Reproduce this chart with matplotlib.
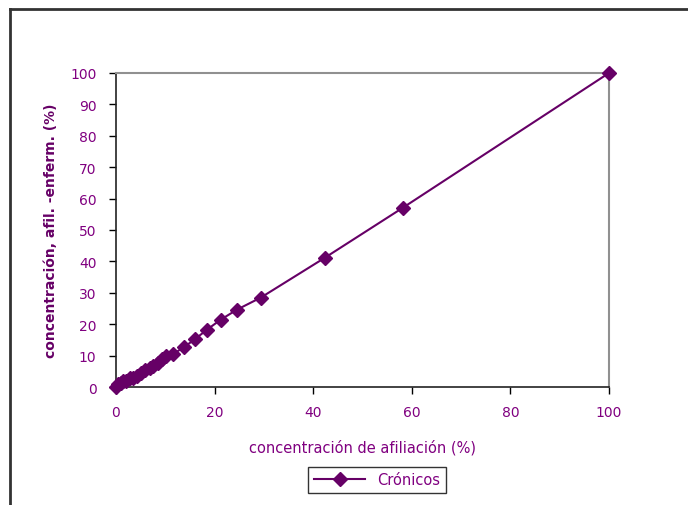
import matplotlib
matplotlib.use("Agg")
import matplotlib.pyplot as plt
from matplotlib.lines import Line2D

# affiliation concentration (%) vs affiliated-sick concentration (%)
conc_afil = [0, 0.5, 1, 1.5, 2, 2.8, 3.5, 4.2, 5, 5.9, 6.8, 7.6, 8.5, 9.3,
             10.2, 11.6, 13.7, 16.0, 18.4, 21.2, 24.5, 29.4, 42.4, 58.2, 100]
conc_enferm = [0, 0.8, 1.2, 1.8, 2.0, 2.8, 3.0, 3.6, 4.5, 5.5, 6.2, 6.8, 7.8, 8.9,
               9.8, 10.5, 12.6, 15.2, 18.2, 21.4, 24.6, 28.5, 41.2, 57.1, 100]
x_ticks = [0, 20, 40, 60, 80, 100]
y_ticks = [0, 10, 20, 30, 40, 50, 60, 70, 80, 90, 100]

line_color = "#660066"
text_color = "#800080"

fig = plt.figure(figsize=(6.88, 5.06), dpi=100)
ax = fig.add_axes([0.1686, 0.2332, 0.7166, 0.6206])

ax.plot(conc_afil, conc_enferm, color=line_color, lw=1.5, marker="D",
        markersize=7.5, label="Crónicos", clip_on=False, zorder=3)

ax.set_xlim(0, 100)
ax.set_ylim(0, 100)
ax.set_xticks(x_ticks)
ax.set_yticks(y_ticks)
ax.tick_params(direction="out", length=5, width=1, colors="black",
               labelcolor=text_color, labelsize=10)
ax.tick_params(axis="y", pad=9)
ax.tick_params(axis="x", pad=8)

for side in ["top", "right"]:
    ax.spines[side].set_color("#909090")
    ax.spines[side].set_linewidth(1.5)
for side in ["left", "bottom"]:
    ax.spines[side].set_color("#222222")
    ax.spines[side].set_linewidth(1.2)

ax.set_xlabel("concentración de afiliación (%)", color=text_color,
              fontsize=10.5, labelpad=14)
ax.set_ylabel("concentración, afil. -enferm. (%)", color=line_color,
              fontsize=10, fontweight="bold", labelpad=9)

leg = ax.legend(loc="center", bbox_to_anchor=(377 / 688, 1 - 481 / 506),
                bbox_transform=fig.transFigure, frameon=True, fancybox=False,
                handlelength=3.5, fontsize=10.5, borderpad=0.4)
leg.get_frame().set_edgecolor("black")
leg.get_frame().set_linewidth(1)
for t in leg.get_texts():
    t.set_color(text_color)

# outer chart frame (only top and left edges visible)
fig.add_artist(Line2D([9.5 / 688, 9.5 / 688], [0, 1 - 9.5 / 506],
                      transform=fig.transFigure, color="#333333", lw=2))
fig.add_artist(Line2D([9.5 / 688, 1], [1 - 9.5 / 506, 1 - 9.5 / 506],
                      transform=fig.transFigure, color="#333333", lw=2))

fig.savefig("out.png", dpi=100)
